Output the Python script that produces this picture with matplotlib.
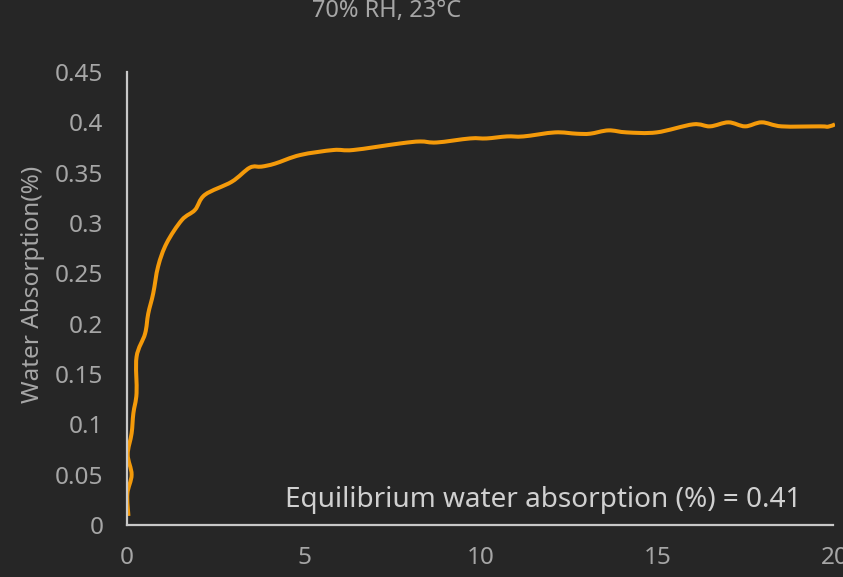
import matplotlib
matplotlib.use("Agg")
import matplotlib.pyplot as plt
from matplotlib.path import Path
from matplotlib.patches import PathPatch

# time (x) and water absorption (%)
time = [0.04, 0.01, 0.13, 0.02, 0.13, 0.18, 0.27, 0.27, 0.51, 0.60, 0.74, 0.88,
        1.12, 1.55, 1.92, 2.20, 2.96, 3.47, 3.80, 4.18, 4.89, 5.83, 6.39, 7.71,
        8.28, 8.75, 9.69, 10.16, 10.73, 11.20, 12.09, 12.70, 13.08, 13.60, 14.12,
        14.96, 15.99, 16.47, 16.99, 17.46, 17.93, 18.49, 19.58, 19.81, 20.0]
absorption = [0.009, 0.031, 0.050, 0.070, 0.091, 0.111, 0.131, 0.167, 0.190, 0.210,
              0.230, 0.257, 0.280, 0.303, 0.313, 0.328, 0.341, 0.355, 0.356, 0.359,
              0.3675, 0.3725, 0.3725, 0.379, 0.381, 0.380, 0.384, 0.384, 0.386,
              0.386, 0.390, 0.3887, 0.3887, 0.392, 0.390, 0.390, 0.398, 0.396,
              0.400, 0.396, 0.400, 0.396, 0.396, 0.3957, 0.398]

x_ticks = [0, 5, 10, 15, 20]
y_ticks = [0, 0.05, 0.1, 0.15, 0.2, 0.25, 0.3, 0.35, 0.4, 0.45]
y_labels = ['0', '0.05', '0.1', '0.15', '0.2', '0.25', '0.3', '0.35', '0.4', '0.45']

bg = '#262626'
txt = '#a6a6a6'
plt.rcParams['font.family'] = ['Noto Sans', 'DejaVu Sans']


def smooth_path(xs, ys, k=1/6):
    # Excel style smoothed line: catmull-rom segments as cubic beziers
    pts = list(zip(xs, ys))
    verts = [pts[0]]
    codes = [Path.MOVETO]
    for i in range(len(pts) - 1):
        p0 = pts[i - 1] if i > 0 else pts[i]
        p1 = pts[i]
        p2 = pts[i + 1]
        p3 = pts[i + 2] if i + 2 < len(pts) else p2
        c1 = (p1[0] + (p2[0] - p0[0]) * k, p1[1] + (p2[1] - p0[1]) * k)
        c2 = (p2[0] - (p3[0] - p1[0]) * k, p2[1] - (p3[1] - p1[1]) * k)
        verts += [c1, c2, p2]
        codes += [Path.CURVE4] * 3
    return Path(verts, codes)


fig = plt.figure(figsize=(8.43, 5.77), dpi=100, facecolor=bg)
ax = fig.add_axes([127/843, 52/577, (835-127)/843, (525-72)/577])
ax.set_facecolor(bg)

ax.add_patch(PathPatch(smooth_path(time, absorption), facecolor='none',
                       edgecolor='#f49a0a', linewidth=2.9, joinstyle='round',
                       capstyle='butt'))

ax.set_xlim(0, 20)
ax.set_ylim(0, 0.45)
ax.set_xticks(x_ticks)
ax.set_yticks(y_ticks)
ax.set_yticklabels(y_labels)
ax.tick_params(axis='both', length=0, labelsize=17.5, colors=txt)
ax.tick_params(axis='y', pad=17)
ax.tick_params(axis='x', pad=15)
for s in ['top', 'right']:
    ax.spines[s].set_visible(False)
for s in ['left', 'bottom']:
    ax.spines[s].set_color('#c8c8c8')
    ax.spines[s].set_linewidth(1.6)
ax.spines['bottom'].set_bounds(0, 19.95)

fig.text(387/843, 1 - 17/577, '70% RH, 23°C', color=txt, fontsize=17,
         ha='center', va='baseline')
fig.text(33/843, 1 - 284/577, 'Water Absorption(%)', color=txt, fontsize=17.5,
         rotation=90, ha='center', va='center')
fig.text(285/843, 1 - 507/577, 'Equilibrium water absorption (%) = 0.41',
         color='#d0d0d0', fontsize=20.1, ha='left', va='baseline')

fig.savefig('out.png', dpi=100, facecolor=bg)
